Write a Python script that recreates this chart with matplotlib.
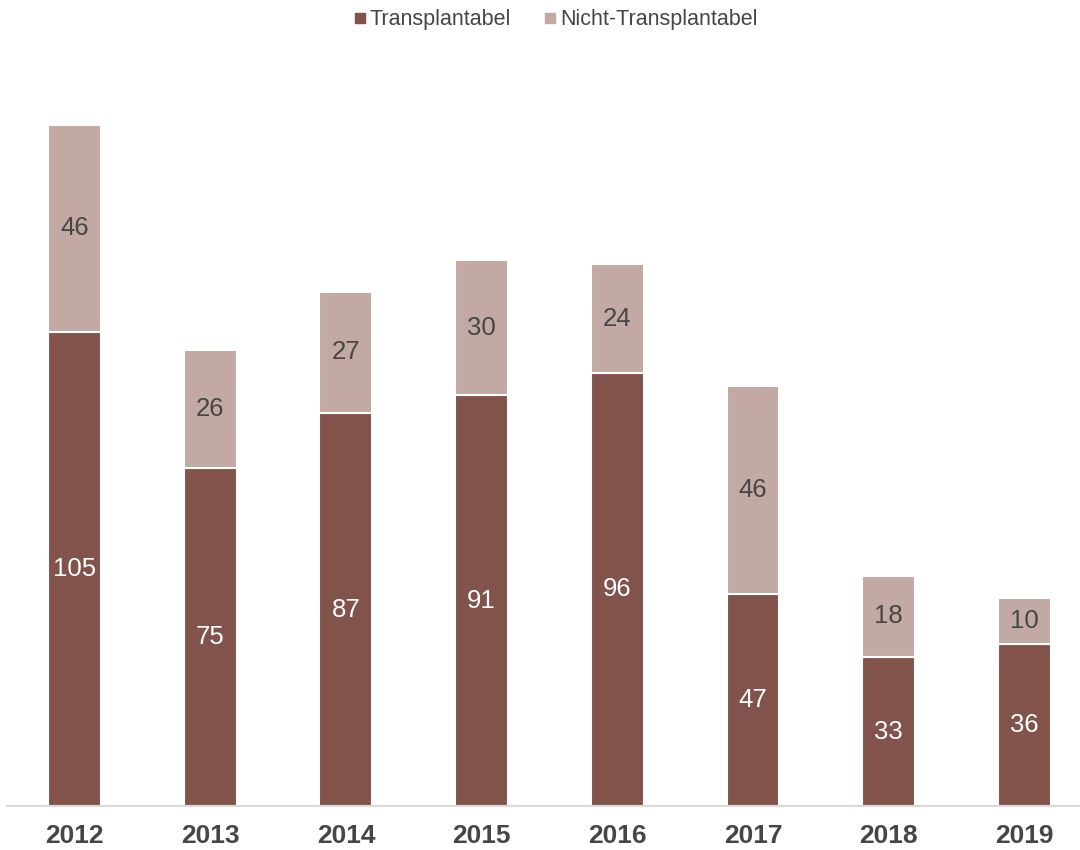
import matplotlib
matplotlib.use("Agg")
import matplotlib.pyplot as plt
from matplotlib.lines import Line2D

years = ["2012", "2013", "2014", "2015", "2016", "2017", "2018", "2019"]
transplantabel = [105, 75, 87, 91, 96, 47, 33, 36]
nicht_transplantabel = [46, 26, 27, 30, 24, 46, 18, 10]

DARK = "#82534B"
LIGHT = "#C3A9A4"
TEXT = "#464646"

plt.rcParams["font.family"] = ["Arial", "Liberation Sans", "DejaVu Sans"]

fig = plt.figure(figsize=(10.8, 8.5), dpi=100)
ax = fig.add_axes([6.6 / 1080, 44 / 850, 1085.7 / 1080, 722 / 850])

x = range(len(years))
b1 = ax.bar(x, transplantabel, width=0.39, color=DARK, edgecolor="white", linewidth=1.5)
b2 = ax.bar(x, nicht_transplantabel, width=0.39, bottom=transplantabel,
            color=LIGHT, edgecolor="white", linewidth=1.5)

ax.bar_label(b1, label_type="center", color="white", fontsize=18.5)
ax.bar_label(b2, label_type="center", color=TEXT, fontsize=18.5)

ax.set_xlim(-0.5, 7.5)
ax.set_ylim(0, 160)
ax.set_xticks(list(x))
ax.set_xticklabels(years, fontsize=19, fontweight="bold", color=TEXT)
ax.tick_params(axis="x", length=0, pad=13)
ax.set_yticks([])
for side in ["left", "right", "top"]:
    ax.spines[side].set_visible(False)
ax.spines["bottom"].set_color("#D9D9D9")
ax.spines["bottom"].set_linewidth(1.5)

handles = [
    Line2D([], [], marker="s", linestyle="none", color=DARK, markersize=6.5),
    Line2D([], [], marker="s", linestyle="none", color=LIGHT, markersize=6.5),
]
fig.legend(handles, ["Transplantabel", "Nicht-Transplantabel"], loc="center",
           bbox_to_anchor=(555 / 1080, 1 - 20 / 850), ncol=2, frameon=False,
           fontsize=15.5, handlelength=0.7, handletextpad=0.1, columnspacing=1.45,
           labelcolor=TEXT)

fig.savefig("out.png", dpi=100)
